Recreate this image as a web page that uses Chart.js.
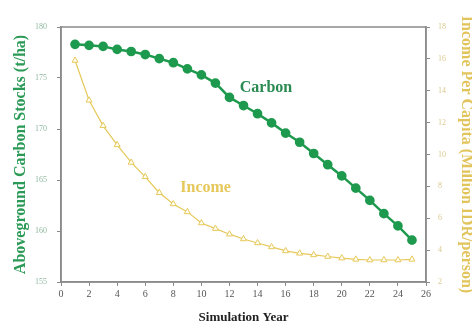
<!DOCTYPE html>
<html>
<head>
<meta charset="utf-8">
<script src="https://cdn.jsdelivr.net/npm/chart.js@4/dist/chart.umd.min.js"></script>
<style>
  html, body { margin: 0; padding: 0; background: #fff; }
  #wrap { width: 472px; height: 329px; }
</style>
</head>
<body>
<div id="wrap"><canvas id="chart"></canvas></div>
<script>
// simulation years
var years = [1, 2, 3, 4, 5, 6, 7, 8, 9, 10, 11, 12, 13, 14, 15, 16, 17, 18, 19, 20, 21, 22, 23, 24, 25];
// aboveground carbon stocks (t/ha)
var carbon = [178.3, 178.2, 178.1, 177.8, 177.6, 177.3, 176.9, 176.5, 175.9, 175.3, 174.5, 173.1, 172.3, 171.5, 170.6,
              169.6, 168.7, 167.6, 166.5, 165.4, 164.2, 163.0, 161.7, 160.5, 159.1];
// income per capita (million IDR/person)
var income = [15.9, 13.4, 11.8, 10.6, 9.5, 8.6, 7.6, 6.9, 6.4, 5.7, 5.35, 5.0, 4.7, 4.45, 4.2,
              3.95, 3.8, 3.7, 3.6, 3.5, 3.42, 3.38, 3.38, 3.38, 3.42];

var green = '#1e9a4e';
var gold = '#e6c85a';
var serif = '"Liberation Serif", "DejaVu Serif", serif';

function pts(ys) {
  return years.map(function (x, i) { return { x: x, y: ys[i] }; });
}

var frame = {
  id: 'frame',
  afterDraw: function (chart) {
    var c = chart.ctx, a = chart.chartArea;
    c.save();
    c.strokeStyle = '#8a8a8a';
    c.lineWidth = 1.5;
    c.strokeRect(a.left, a.top, a.right - a.left, a.bottom - a.top);
    // series labels
    c.font = 'bold 16px ' + serif;
    c.textAlign = 'center';
    c.textBaseline = 'middle';
    c.fillStyle = '#2a8a52';
    c.fillText('Carbon', chart.scales.x.getPixelForValue(14.6), chart.scales.y.getPixelForValue(174.0));
    c.fillStyle = gold;
    c.fillText('Income', chart.scales.x.getPixelForValue(10.3), chart.scales.y2.getPixelForValue(7.9));
    c.restore();
  }
};

var ctx = document.getElementById('chart').getContext('2d');
new Chart(ctx, {
  type: 'line',
  data: {
    datasets: [{
      label: 'Carbon',
      data: pts(carbon),
      yAxisID: 'y',
      borderColor: green,
      backgroundColor: green,
      borderWidth: 2.5,
      pointRadius: 3.6,
      pointStyle: 'circle',
      pointBackgroundColor: green,
      pointBorderColor: green,
      tension: 0
    }, {
      label: 'Income',
      data: pts(income),
      yAxisID: 'y2',
      borderColor: gold,
      backgroundColor: '#fff',
      borderWidth: 1.2,
      pointRadius: 3.5,
      pointStyle: 'triangle',
      pointBackgroundColor: '#fffdf2',
      pointBorderColor: gold,
      pointBorderWidth: 1,
      tension: 0
    }]
  },
  options: {
    responsive: true,
    maintainAspectRatio: false,
    animation: false,
    layout: { padding: { top: 27, left: 0, right: 0, bottom: 0 } },
    plugins: { legend: { display: false }, tooltip: { enabled: false } },
    scales: {
      x: {
        type: 'linear',
        min: 0, max: 26,
        ticks: { stepSize: 2, color: '#555', font: { family: serif, size: 10 }, padding: 2 },
        grid: { drawOnChartArea: false, color: '#8a8a8a', tickLength: 4 },
        border: { color: '#8a8a8a', width: 1.5 },
        title: { display: true, text: 'Simulation Year', color: '#222', font: { family: serif, size: 13, weight: 'bold' }, padding: { top: 2 } },
        afterFit: function (s) { s.height = 47; }
      },
      y: {
        position: 'left',
        min: 155, max: 180,
        ticks: { stepSize: 5, color: '#8fb89f', font: { family: serif, size: 8 }, padding: 10 },
        grid: { drawOnChartArea: false, color: '#8a8a8a', tickLength: 4 },
        border: { color: '#8a8a8a', width: 1.5 },
        title: { display: true, text: 'Aboveground Carbon Stocks (t/ha)', color: '#2a9a56', font: { family: serif, size: 16, weight: 'bold', lineHeight: 1 }, padding: { top: 13, bottom: 0 } },
        afterFit: function (s) { s.width = 61; }
      },
      y2: {
        position: 'right',
        min: 2, max: 18,
        ticks: { stepSize: 2, color: '#d9c98f', font: { family: serif, size: 8 }, padding: 8 },
        grid: { drawOnChartArea: false, color: '#8a8a8a', tickLength: 4 },
        border: { color: '#8a8a8a', width: 1.5 },
        title: { display: true, text: 'Income Per Capita (Million IDR/person)', color: '#e2c45c', font: { family: serif, size: 16, weight: 'bold', lineHeight: 1 }, padding: { top: -2, bottom: 0 } },
        afterFit: function (s) { s.width = 46; }
      }
    }
  },
  plugins: [frame]
});
</script>
</body>
</html>
